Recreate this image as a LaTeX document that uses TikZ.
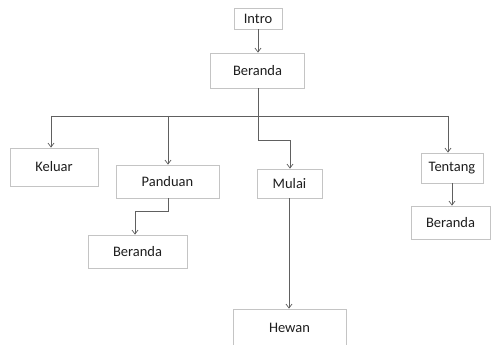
\documentclass[tikz,border=0pt]{standalone}
\usepackage{fontspec}
\setmainfont{Carlito}
\usetikzlibrary{arrows.meta}
\definecolor{boxline}{HTML}{C4C4C4}
\definecolor{conn}{HTML}{606060}
\definecolor{txt}{HTML}{1E1E1E}
\tikzset{
  box/.style={draw=boxline, line width=0.8pt, fill=white, text=txt, inner sep=0pt,
    font=\fontsize{14.5}{16}\selectfont, anchor=center},
  link/.style={draw=conn, line width=0.8pt},
  arr/.style={link, -{Straight Barb[length=4pt,width=6pt,line width=0.7pt]}}
}
\begin{document}
\begin{tikzpicture}[x=1pt,y=-1pt]
\clip (0,0) rectangle (491,345);
\fill[white] (0,0) rectangle (491,345);
% nodes
\node[box, minimum width=48pt, minimum height=21pt] (intro) at (258,18.5) {Intro};
\node[box, minimum width=94pt, minimum height=35pt] (ber1) at (257.5,70.5) {Beranda};
\node[box, minimum width=88pt, minimum height=38pt] (keluar) at (54,167) {Keluar};
\node[box, minimum width=103pt, minimum height=33pt] (panduan) at (167.5,181.5) {Panduan};
\node[box, minimum width=65pt, minimum height=29pt] (mulai) at (289.5,183.5) {Mulai};
\node[box, minimum width=62pt, minimum height=30pt] (tentang) at (452,168) {Tentang};
\node[box, minimum width=99pt, minimum height=33pt] (ber2) at (137.5,251.5) {Beranda};
\node[box, minimum width=79pt, minimum height=33pt] (ber3) at (450.5,222.5) {Beranda};
\node[box, minimum width=113pt, minimum height=38pt] (hewan) at (289.5,328) {Hewan};
% bus coordinates
\coordinate (busL) at (51,116);
\coordinate (busP) at (168,116);
\coordinate (busR) at (448,116);
\coordinate (turn1) at (258,140);
\coordinate (turn2) at (290,140);
\coordinate (pd1) at (168,211);
\coordinate (pd2) at (135,211);
% connectors
\draw[arr] (intro.south) -- (ber1.north -| intro.south);
\draw[link] (busL) -- (busR);
\draw[arr] (ber1.south -| turn1) -- (turn1) -- (turn2) -- (mulai.north -| turn2);
\draw[arr] (busL) -- (keluar.north -| busL);
\draw[arr] (busP) -- (panduan.north -| busP);
\draw[arr] (busR) -- (tentang.north -| busR);
\draw[arr] (panduan.south -| pd1) -- (pd1) -- (pd2) -- (ber2.north -| pd2);
\draw[arr] (tentang.south) -- (ber3.north -| tentang.south);
\draw[arr] (mulai.south -| 289,0) -- (hewan.north -| 289,0);
\end{tikzpicture}
\end{document}
